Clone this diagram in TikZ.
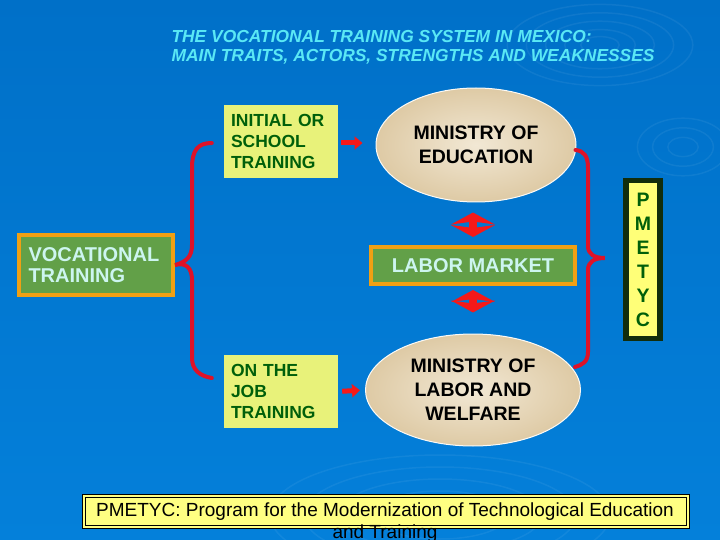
\documentclass[tikz,border=0pt]{standalone}
\usepackage{fontspec}
\setmainfont{Liberation Sans}
\usetikzlibrary{arrows.meta,shapes.geometric,calc}
\definecolor{bgtop}{RGB}{0,112,200}
\definecolor{bgmid}{RGB}{0,84,164}
\definecolor{bgbot}{RGB}{4,128,218}
\definecolor{titlecyan}{RGB}{90,232,245}
\definecolor{boxyellow}{RGB}{232,242,122}
\definecolor{darkgreentext}{RGB}{0,95,10}
\definecolor{boxgreen}{RGB}{98,160,72}
\definecolor{boxorange}{RGB}{240,160,20}
\definecolor{lighttext}{RGB}{205,245,240}
\definecolor{sand}{RGB}{236,222,194}
\definecolor{sanddark}{RGB}{222,202,165}
\definecolor{bracered}{RGB}{222,18,40}
\definecolor{arrowred}{RGB}{245,25,25}
\definecolor{pmdark}{RGB}{18,45,12}
\definecolor{pmyellow}{RGB}{255,255,120}
\definecolor{notey}{RGB}{255,255,130}
\tikzset{
  ybox/.style={fill=boxyellow, minimum width=114pt, minimum height=73pt, inner sep=0pt,
    text width=100pt, align=left, text=darkgreentext,
    font=\fontsize{17.5}{21}\selectfont\bfseries},
  gbox/.style={fill=boxgreen, draw=boxorange, line width=4pt, inner sep=0pt,
    text=lighttext, font=\fontsize{20}{21}\selectfont\bfseries},
  ell/.style={ellipse, inner color=sand!70!white, outer color=sanddark, draw=white!85!sand,
    line width=1pt, inner sep=0pt, align=center, text=black,
    font=\fontsize{19.5}{24}\selectfont\bfseries},
  brace/.style={draw=bracered, line width=4pt, line cap=round},
  harrow/.style={draw=arrowred, line width=5pt, -{Triangle[width=13pt,length=8pt]}},
  varrow/.style={draw=arrowred, line width=8pt,
    {Stealth[width=44pt,length=12pt,inset=3pt]}-{Stealth[width=44pt,length=12pt,inset=3pt]}},
  ripple/.style={draw=white, opacity=0.06, line width=1.5pt}
}
\begin{document}
\begin{tikzpicture}[x=1pt,y=-1pt]
\useasboundingbox (0,0) rectangle (720,540);
\shade[top color=bgtop, middle color=bgmid, bottom color=bgbot] (0,0) rectangle (720,540);
% faint ripples
\foreach \r in {12,22,34,46,58} {\draw[ripple] (600,45) ellipse ({\r*1.6pt} and {\r*0.7pt});}
\foreach \r in {8,16,24} {\draw[ripple] (683,147) ellipse ({\r*1.9pt} and {\r*1.2pt});}
\foreach \r in {20,40,60,80,100} {\draw[ripple] (440,515) ellipse ({\r*1.7pt} and {\r*0.6pt});}
% title
\node[anchor=west, text=titlecyan, align=left, font=\fontsize{17.4}{19}\selectfont\bfseries\itshape]
  (title) at (168,47) {THE VOCATIONAL TRAINING SYSTEM IN MEXICO:\\MAIN TRAITS, ACTORS, STRENGTHS AND WEAKNESSES};
% left column
\node[ybox] (init) at (281,141.5) {INITIAL OR\\SCHOOL\\TRAINING};
\node[ybox] (job) at (281,391.5) {ON THE\\JOB\\TRAINING};
\node[gbox, minimum width=154pt, minimum height=60pt, text width=135pt, align=left] (voc) at (96,265)
  {VOCATIONAL\\TRAINING};
% ellipses and labor market
\node[ell, minimum width=200pt, minimum height=114pt] (edu) at (476,145) {MINISTRY OF\\EDUCATION};
\node[ell, minimum width=215pt, minimum height=112pt] (lab) at (473,390) {MINISTRY OF\\LABOR AND\\WELFARE};
\node[gbox, minimum width=204pt, minimum height=37pt] (lm) at (473,265.5) {LABOR MARKET};
% PMETYC vertical
\node[fill=pmdark, minimum width=40pt, minimum height=163pt, inner sep=0pt] (pm) at (643,259.5) {};
\node[fill=pmyellow, minimum width=28pt, minimum height=153pt, inner sep=0pt, align=center,
  text=darkgreentext, font=\fontsize{19.5}{24}\selectfont\bfseries] (pmin) at (pm.center) {P\\M\\E\\T\\Y\\C};
% braces
\coordinate (lbtop) at ($(init.west)+(-12,1.5)$);
\coordinate (lbbot) at ($(job.west)+(-12,-13.5)$);
\draw[brace] (lbtop) .. controls (198,143) and (192,150) .. (192,168) -- (192,245)
  .. controls (192,257) and (186,262) .. (voc.east)
  .. controls (186,262) and (192,268) .. (192,280) -- (192,358)
  .. controls (192,370) and (200,376) .. (lbbot);
\coordinate (rbtop) at ($(edu.east)+(-1,5)$);
\coordinate (rbbot) at ($(lab.north east)+(-8,-8)$);
\coordinate (rbtip) at ($(pm.west)+(-18,-1.5)$);
\draw[brace] (rbtop) .. controls (584,151) and (588,156) .. (588,168) -- (588,246)
  .. controls (588,254) and (594,258) .. (rbtip)
  .. controls (594,258) and (588,262) .. (588,270) -- (588,352)
  .. controls (588,362) and (582,365) .. (575,367);
% arrows
\draw[harrow, shorten <=3pt, shorten >=13pt] (init.east |- 0,143) -- (edu.west |- 0,143);
\draw[harrow, shorten <=4pt, shorten >=5pt] (job.east) -- (lab.west);
\draw[varrow, shorten <=10pt, shorten >=8pt] (lm.north |- edu.south) -- (lm.north);
\draw[varrow, shorten <=4pt, shorten >=21pt] (lm.south) -- (lm.south |- lab.north);
% bottom note
\node[fill=notey, draw=black, double=notey, double distance=1.5pt, line width=1pt,
  minimum width=604pt, minimum height=31pt, inner sep=0pt] (notebox) at (386,511.5) {};
\node[align=center, text=black, font=\fontsize{19}{21.5}\selectfont] (note) at (385,522.5)
  {PMETYC: Program for the Modernization of Technological Education\\and Training};
\end{tikzpicture}
\end{document}
